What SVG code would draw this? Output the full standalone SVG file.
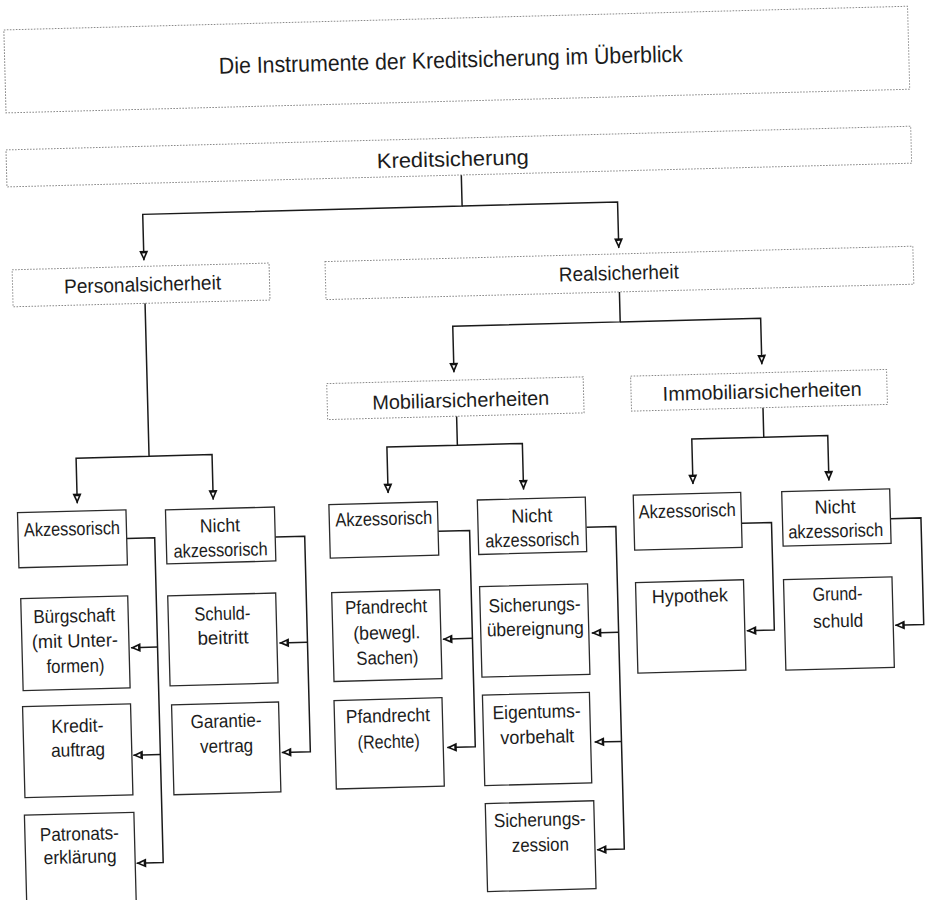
<svg xmlns="http://www.w3.org/2000/svg" width="929" height="900" viewBox="0 0 929 900">
  <style>
    .dot { fill: none; stroke: #8a8a8a; stroke-width: 1; stroke-dasharray: 1.6 1.4; }
    .box { fill: #fff; stroke: #2a2a2a; stroke-width: 1.3; }
    .ln { fill: none; stroke: #1a1a1a; stroke-width: 1.5; }
    .arr { marker-end: url(#arr); }
    text { font-family: "Liberation Sans", Arial, sans-serif; fill: #1c1c1c; text-anchor: middle; }
    .ti { font-size: 23px; }
    .h { font-size: 20px; }
    .t { font-size: 19px; }
  </style>
  <defs>
    <!-- dark arrowhead with a small light core -->
    <marker id="arr" markerUnits="userSpaceOnUse" viewBox="0 0 11 10" markerWidth="11" markerHeight="10" refX="10" refY="5" orient="auto">
      <path d="M0.5,0.5 L10.5,5 L0.5,9.5 Z" fill="#111"/>
      <path d="M3,3.4 L6.6,5 L3,6.6 Z" fill="#fff"/>
    </marker>
  </defs>
  <rect width="929" height="900" fill="#fff"/>

  <!-- the printed page sits slightly tilted -->
  <g transform="rotate(-1.5 465 450)">

    <g id="connectors">
      <path class="ln arr" d="M468.5,175 V206 H149 V252"/>
      <path class="ln arr" d="M468.5,206 H624 V252"/>

      <path class="ln arr" d="M149,295 V448 H76 V493"/>
      <path class="ln arr" d="M149,448 H212 V493"/>

      <path class="ln arr" d="M623.5,296 V326 H456 V372"/>
      <path class="ln arr" d="M623.5,326 H764 V372"/>

      <path class="ln arr" d="M457.5,416 V445 H387 V491"/>
      <path class="ln arr" d="M457.5,445 H522.5 V491"/>

      <path class="ln arr" d="M764,415.5 V445 H692 V490"/>
      <path class="ln arr" d="M764,445 H828 V490"/>

      <path class="ln arr" d="M124.5,529.5 H152.5 V854.5 H126"/>
      <path class="ln arr" d="M152.5,639 H126"/>
      <path class="ln arr" d="M152.5,746.5 H125.5"/>

      <path class="ln arr" d="M273,532 H302.5 V747.5 H274"/>
      <path class="ln arr" d="M302.5,638 H274.5"/>

      <path class="ln arr" d="M436,530.5 H467.5 V747 H439.5"/>
      <path class="ln arr" d="M467.5,638.5 H438"/>

      <path class="ln arr" d="M584.5,530.5 H613.8 V853 H586.5"/>
      <path class="ln arr" d="M613.8,636.3 H587"/>
      <path class="ln arr" d="M613.8,745.4 H587"/>

      <path class="ln arr" d="M739.5,530.5 H769.5 V638 H742"/>
      <path class="ln arr" d="M888.5,529.8 H919 V636.5 H890.5"/>
    </g>

    <g id="title">
      <rect class="dot" x="15" y="18" width="904" height="83"/>
      <text class="ti" x="461" y="67.5" textLength="464" lengthAdjust="spacingAndGlyphs">Die Instrumente der Kreditsicherung im Überblick</text>
    </g>

    <g id="kreditsicherung">
      <rect class="dot" x="14" y="138" width="905" height="37"/>
      <text class="h" x="460.5" y="166" style="font-size:21px" textLength="152" lengthAdjust="spacingAndGlyphs">Kreditsicherung</text>
    </g>

    <g id="personalsicherheit">
      <rect class="dot" x="17" y="258" width="257" height="37"/>
      <text class="h" x="147" y="283" textLength="157" lengthAdjust="spacingAndGlyphs">Personalsicherheit</text>
    </g>

    <g id="realsicherheit">
      <rect class="dot" x="330" y="258" width="588" height="38"/>
      <text class="h" x="623.5" y="284" textLength="120" lengthAdjust="spacingAndGlyphs">Realsicherheit</text>
    </g>

    <g id="mobiliarsicherheiten">
      <rect class="dot" x="328.5" y="380" width="256.5" height="36"/>
      <text class="h" x="462" y="407" textLength="177" lengthAdjust="spacingAndGlyphs">Mobiliarsicherheiten</text>
    </g>

    <g id="immobiliarsicherheiten">
      <rect class="dot" x="632.5" y="380.5" width="256" height="35"/>
      <text class="h" x="763.6" y="406" textLength="199" lengthAdjust="spacingAndGlyphs">Immobiliarsicherheiten</text>
    </g>

    <!-- Personalsicherheit branch -->
    <g id="p-akzessorisch">
      <rect class="box" x="16" y="501" width="108.5" height="55"/>
      <text class="t" x="70" y="525" textLength="96" lengthAdjust="spacingAndGlyphs">Akzessorisch</text>
    </g>
    <g id="p-nicht-akzessorisch">
      <rect class="box" x="164" y="502" width="109" height="54"/>
      <text class="t" x="218" y="525.5" textLength="40" lengthAdjust="spacingAndGlyphs">Nicht</text>
      <text class="t" x="218" y="550" textLength="94" lengthAdjust="spacingAndGlyphs">akzessorisch</text>
    </g>
    <g id="buergschaft">
      <rect class="box" x="17" y="587" width="107" height="92"/>
      <text class="t" x="70" y="612" textLength="82" lengthAdjust="spacingAndGlyphs">Bürgschaft</text>
      <text class="t" x="70" y="637" textLength="86" lengthAdjust="spacingAndGlyphs">(mit Unter-</text>
      <text class="t" x="70" y="662" textLength="58" lengthAdjust="spacingAndGlyphs">formen)</text>
    </g>
    <g id="kreditauftrag">
      <rect class="box" x="16" y="695" width="108" height="91"/>
      <text class="t" x="70.3" y="722" textLength="52" lengthAdjust="spacingAndGlyphs">Kredit-</text>
      <text class="t" x="70.3" y="746" textLength="54" lengthAdjust="spacingAndGlyphs">auftrag</text>
    </g>
    <g id="patronatserklaerung">
      <rect class="box" x="15" y="803.5" width="109.5" height="130"/>
      <text class="t" x="69.5" y="830" textLength="79" lengthAdjust="spacingAndGlyphs">Patronats-</text>
      <text class="t" x="69.5" y="853" textLength="73" lengthAdjust="spacingAndGlyphs">erklärung</text>
    </g>
    <g id="schuldbeitritt">
      <rect class="box" x="164" y="588" width="108" height="90"/>
      <text class="t" x="218.2" y="613.7" textLength="56" lengthAdjust="spacingAndGlyphs">Schuld-</text>
      <text class="t" x="218.2" y="637.7" textLength="51" lengthAdjust="spacingAndGlyphs">beitritt</text>
    </g>
    <g id="garantievertrag">
      <rect class="box" x="165" y="697" width="107" height="90"/>
      <text class="t" x="219" y="721" textLength="71" lengthAdjust="spacingAndGlyphs">Garantie-</text>
      <text class="t" x="219" y="746" textLength="53" lengthAdjust="spacingAndGlyphs">vertrag</text>
    </g>

    <!-- Mobiliarsicherheiten branch -->
    <g id="m-akzessorisch">
      <rect class="box" x="327.5" y="501" width="108.5" height="53.5"/>
      <text class="t" x="382" y="523" textLength="97" lengthAdjust="spacingAndGlyphs">Akzessorisch</text>
    </g>
    <g id="m-nicht-akzessorisch">
      <rect class="box" x="476" y="500.3" width="108" height="54.5"/>
      <text class="t" x="530" y="524" textLength="41" lengthAdjust="spacingAndGlyphs">Nicht</text>
      <text class="t" x="530" y="548" textLength="94" lengthAdjust="spacingAndGlyphs">akzessorisch</text>
    </g>
    <g id="pfandrecht-sachen">
      <rect class="box" x="328" y="589" width="108" height="89"/>
      <text class="t" x="382" y="611" textLength="82" lengthAdjust="spacingAndGlyphs">Pfandrecht</text>
      <text class="t" x="382" y="637" textLength="67" lengthAdjust="spacingAndGlyphs">(bewegl.</text>
      <text class="t" x="382" y="662" textLength="62" lengthAdjust="spacingAndGlyphs">Sachen)</text>
    </g>
    <g id="pfandrecht-rechte">
      <rect class="box" x="327.5" y="697" width="108" height="88.5"/>
      <text class="t" x="381" y="720" textLength="84" lengthAdjust="spacingAndGlyphs">Pfandrecht</text>
      <text class="t" x="381" y="746" textLength="62" lengthAdjust="spacingAndGlyphs">(Rechte)</text>
    </g>
    <g id="sicherungsuebereignung">
      <rect class="box" x="476" y="587" width="108" height="90.5"/>
      <text class="t" x="530.5" y="613" textLength="92" lengthAdjust="spacingAndGlyphs">Sicherungs-</text>
      <text class="t" x="530.5" y="637" textLength="97" lengthAdjust="spacingAndGlyphs">übereignung</text>
    </g>
    <g id="eigentumsvorbehalt">
      <rect class="box" x="476" y="695.5" width="107" height="90.5"/>
      <text class="t" x="529.7" y="720" textLength="88" lengthAdjust="spacingAndGlyphs">Eigentums-</text>
      <text class="t" x="529.7" y="745" textLength="74" lengthAdjust="spacingAndGlyphs">vorbehalt</text>
    </g>
    <g id="sicherungszession">
      <rect class="box" x="476" y="804" width="108.5" height="88"/>
      <text class="t" x="530" y="828" textLength="92" lengthAdjust="spacingAndGlyphs">Sicherungs-</text>
      <text class="t" x="530" y="853" textLength="57" lengthAdjust="spacingAndGlyphs">zession</text>
    </g>

    <!-- Immobiliarsicherheiten branch -->
    <g id="i-akzessorisch">
      <rect class="box" x="632" y="499.5" width="107.5" height="55"/>
      <text class="t" x="685.5" y="523" textLength="97" lengthAdjust="spacingAndGlyphs">Akzessorisch</text>
    </g>
    <g id="i-nicht-akzessorisch">
      <rect class="box" x="780.5" y="500" width="108" height="54.5"/>
      <text class="t" x="833.5" y="523" textLength="41" lengthAdjust="spacingAndGlyphs">Nicht</text>
      <text class="t" x="833.5" y="547" textLength="95" lengthAdjust="spacingAndGlyphs">akzessorisch</text>
    </g>
    <g id="hypothek">
      <rect class="box" x="632" y="587" width="108" height="90.5"/>
      <text class="t" x="686" y="608" textLength="76" lengthAdjust="spacingAndGlyphs">Hypothek</text>
    </g>
    <g id="grundschuld">
      <rect class="box" x="780" y="588" width="108.5" height="90.5"/>
      <text class="t" x="833.6" y="610" textLength="50" lengthAdjust="spacingAndGlyphs">Grund-</text>
      <text class="t" x="833.6" y="637" textLength="50" lengthAdjust="spacingAndGlyphs">schuld</text>
    </g>
  </g>
</svg>
